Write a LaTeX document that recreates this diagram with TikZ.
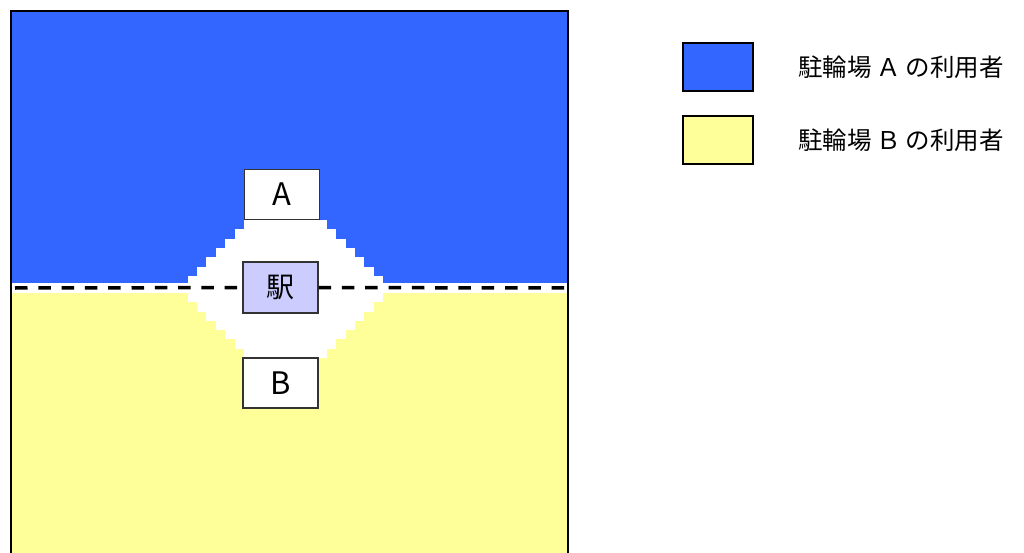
\documentclass[tikz,border=0pt]{standalone}
\usepackage{fontspec}
\setmainfont{Noto Sans CJK JP}
\usetikzlibrary{positioning}
\definecolor{areaA}{HTML}{3366FF}
\definecolor{areaB}{HTML}{FFFF99}
\definecolor{ekiblue}{HTML}{CCCCFF}
\newcommand{\users}[1]{駐輪場\hspace{0.2em}#1\hspace{0.2em}の利用者}

\begin{document}
\begin{tikzpicture}[x=1pt,y=-1pt,
    box/.style={draw=black!80,line width=1.2pt,fill=white,inner sep=0pt,
        minimum width=75pt,minimum height=50pt,font=\fontsize{31}{33}\selectfont},
    key/.style={draw=black,line width=2pt,minimum width=70pt,minimum height=48pt,inner sep=0pt},
    keytext/.style={inner sep=0pt,font=\fontsize{24.5}{27}\selectfont},
    border/.style={draw=black,line width=2pt}]
    \useasboundingbox (0,0) rectangle (1024,553);
    \clip (0,0) rectangle (1024,553);

    % the two catchment areas
    \fill[areaA] (11,11) rectangle (568,283);
    \fill[areaB] (11,293) rectangle (568,570);
    \fill[white] (11,283) rectangle (568,293);
    % staircase round the station
    \foreach \k in {0,...,6} {
        \fill[white] (244-9.4*\k,220+9.3*\k) rectangle (327+9.3*\k,229.5+9.3*\k);
        \fill[white] (244-9.4*\k,348.5-9.3*\k) rectangle (327+9.3*\k,358-9.3*\k);
    }
    \draw[border] (11,570) -- (11,11) -- (568,11) -- (568,570);

    \node[box] (1) at (282,194.5) {A};
    \node[box,fill=ekiblue,minimum height=51pt,font=\fontsize{28}{30}\selectfont] (2) at (280.5,287.5) {駅};
    \node[box] (3) at (280.5,383) {B};

    \coordinate (l) at (15,288);
    \coordinate (r) at (568,288);
    \path[every edge/.style={draw,black,line width=3.5pt,dash pattern=on 12.5pt off 10.8pt}]
    (l) edge (2)
    (2) edge (r);

    % legend
    \node[key,fill=areaA] (4) at (718,67.5) {};
    \node[key,fill=areaB] (5) at (718,140) {};
    \node[keytext,right=44pt of 4] (6) {\users{Ａ}};
    \node[keytext,right=44pt of 5] (7) {\users{Ｂ}};
\end{tikzpicture}
\end{document}
